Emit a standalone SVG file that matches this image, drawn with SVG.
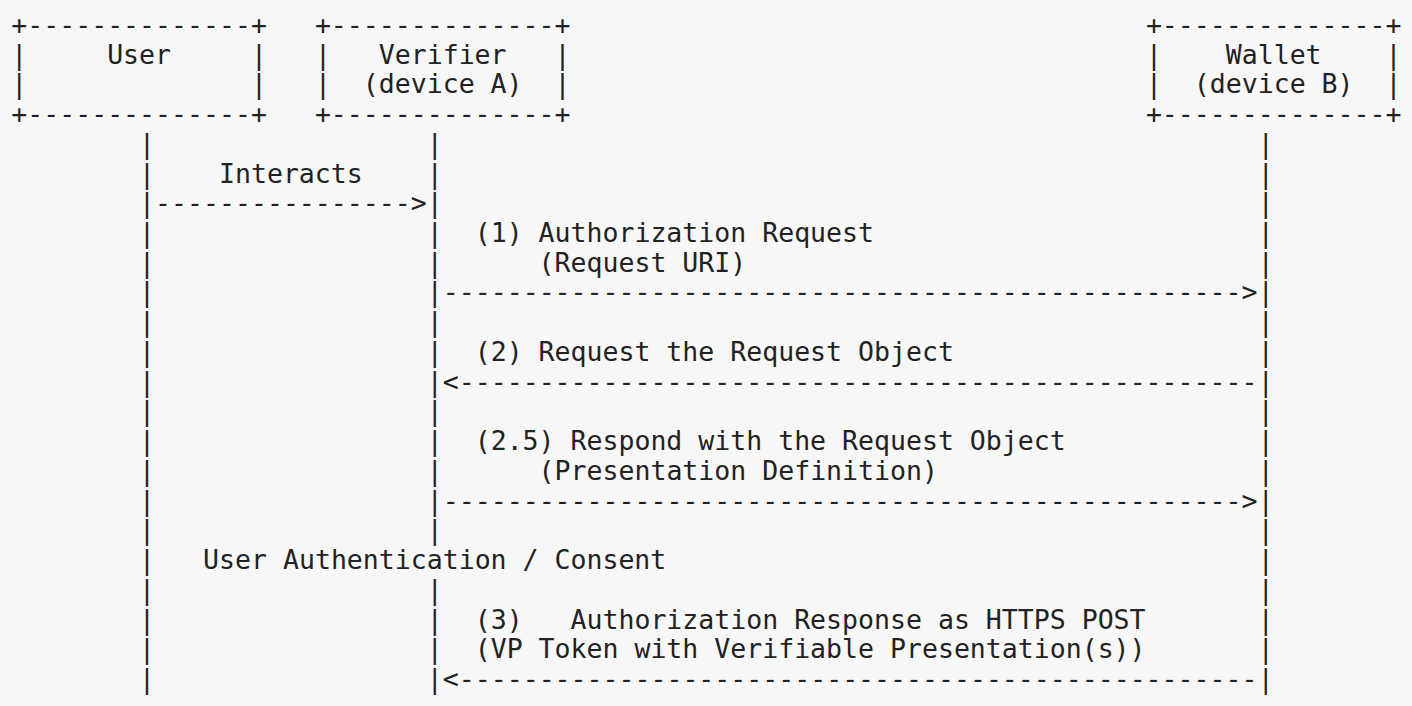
<svg xmlns="http://www.w3.org/2000/svg" width="1412" height="706" viewBox="0 0 1412 706" xml:space="preserve">
<style>
text { font-family: "DejaVu Sans Mono", "Liberation Mono", monospace; font-size: 26.54px; fill: #222222; white-space: pre; }
</style>
<rect x="0" y="0" width="1412" height="706" fill="#f7f7f7"/>
<g transform="translate(0,-1.5)">
<g id="node-user">
<text x="11.3" y="35.3">+--------------+</text>
<text x="11.3" y="65.0">|     User     |</text>
<text x="11.3" y="94.7">|              |</text>
<text x="11.3" y="124.5">+--------------+</text>
</g>
<g id="node-verifier">
<text x="314.9" y="35.3">+--------------+</text>
<text x="314.9" y="65.0">|   Verifier   |</text>
<text x="314.9" y="94.7">|  (device A)  |</text>
<text x="314.9" y="124.5">+--------------+</text>
</g>
<g id="node-wallet">
<text x="1145.9" y="35.3">+--------------+</text>
<text x="1145.9" y="65.0">|    Wallet    |</text>
<text x="1145.9" y="94.7">|  (device B)  |</text>
<text x="1145.9" y="124.5">+--------------+</text>
</g>
<g id="connectors">
<text id="lifeline-user"><tspan x="139.1" y="154.2">|</tspan><tspan x="139.1" y="184.0">|</tspan><tspan x="139.1" y="213.7">|</tspan><tspan x="139.1" y="243.4">|</tspan><tspan x="139.1" y="273.2">|</tspan><tspan x="139.1" y="302.9">|</tspan><tspan x="139.1" y="332.7">|</tspan><tspan x="139.1" y="362.4">|</tspan><tspan x="139.1" y="392.1">|</tspan><tspan x="139.1" y="421.9">|</tspan><tspan x="139.1" y="451.6">|</tspan><tspan x="139.1" y="481.4">|</tspan><tspan x="139.1" y="511.1">|</tspan><tspan x="139.1" y="540.8">|</tspan><tspan x="139.1" y="570.6">|</tspan><tspan x="139.1" y="600.3">|</tspan><tspan x="139.1" y="630.1">|</tspan><tspan x="139.1" y="659.8">|</tspan><tspan x="139.1" y="689.5">|</tspan></text>
<text id="lifeline-verifier"><tspan x="426.8" y="154.2">|</tspan><tspan x="426.8" y="184.0">|</tspan><tspan x="426.8" y="213.7">|</tspan><tspan x="426.8" y="243.4">|</tspan><tspan x="426.8" y="273.2">|</tspan><tspan x="426.8" y="302.9">|</tspan><tspan x="426.8" y="332.7">|</tspan><tspan x="426.8" y="362.4">|</tspan><tspan x="426.8" y="392.1">|</tspan><tspan x="426.8" y="421.9">|</tspan><tspan x="426.8" y="451.6">|</tspan><tspan x="426.8" y="481.4">|</tspan><tspan x="426.8" y="511.1">|</tspan><tspan x="426.8" y="540.8">|</tspan><tspan x="426.8" y="600.3">|</tspan><tspan x="426.8" y="630.1">|</tspan><tspan x="426.8" y="659.8">|</tspan><tspan x="426.8" y="689.5">|</tspan></text>
<text id="lifeline-wallet"><tspan x="1257.7" y="154.2">|</tspan><tspan x="1257.7" y="184.0">|</tspan><tspan x="1257.7" y="213.7">|</tspan><tspan x="1257.7" y="243.4">|</tspan><tspan x="1257.7" y="273.2">|</tspan><tspan x="1257.7" y="302.9">|</tspan><tspan x="1257.7" y="332.7">|</tspan><tspan x="1257.7" y="362.4">|</tspan><tspan x="1257.7" y="392.1">|</tspan><tspan x="1257.7" y="421.9">|</tspan><tspan x="1257.7" y="451.6">|</tspan><tspan x="1257.7" y="481.4">|</tspan><tspan x="1257.7" y="511.1">|</tspan><tspan x="1257.7" y="540.8">|</tspan><tspan x="1257.7" y="570.6">|</tspan><tspan x="1257.7" y="600.3">|</tspan><tspan x="1257.7" y="630.1">|</tspan><tspan x="1257.7" y="659.8">|</tspan><tspan x="1257.7" y="689.5">|</tspan></text>
<text x="219.0" y="184.0">Interacts</text>
<text x="155.1" y="213.7">----------------&gt;</text>
<text x="474.7" y="243.4">(1) Authorization Request</text>
<text x="538.6" y="273.2">(Request URI)</text>
<text x="442.8" y="302.9">--------------------------------------------------&gt;</text>
<text x="474.7" y="362.4">(2) Request the Request Object</text>
<text x="442.8" y="392.1">&lt;--------------------------------------------------</text>
<text x="474.7" y="451.6">(2.5) Respond with the Request Object</text>
<text x="538.6" y="481.4">(Presentation Definition)</text>
<text x="442.8" y="511.1">--------------------------------------------------&gt;</text>
<text x="203.1" y="570.6">User Authentication / Consent</text>
<text x="474.7" y="630.1">(3)   Authorization Response as HTTPS POST</text>
<text x="474.7" y="659.8">(VP Token with Verifiable Presentation(s))</text>
<text x="442.8" y="689.5">&lt;--------------------------------------------------</text>
</g>
</g>
</svg>
